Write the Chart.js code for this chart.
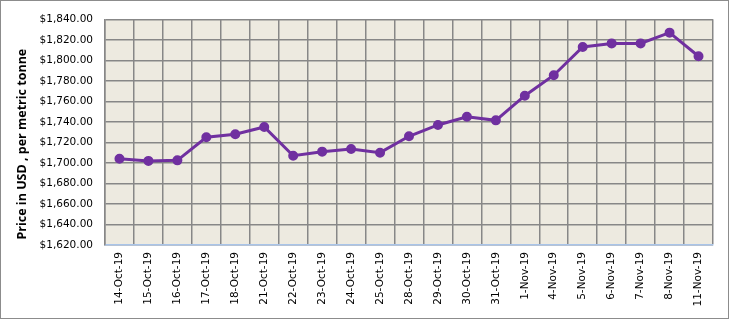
<!DOCTYPE html>
<html lang="en">
<head>
    <meta charset="UTF-8">
    <title>Price chart</title>
    <script src="https://cdn.jsdelivr.net/npm/chart.js@4"></script>
    <style>
        html, body { margin: 0; padding: 0; background: #fff; }
        #wrap {
            position: relative;
            width: 727px;
            height: 317px;
            border: 1px solid #8c8c8c;
        }
        #priceChart { position: absolute; left: 0; top: 0; }
    </style>
</head>
<body>
    <div id="wrap">
        <canvas id="priceChart" width="727" height="317"></canvas>
    </div>

    <script>
        // dates on the x axis
        const dates = ['14-Oct-19', '15-Oct-19', '16-Oct-19', '17-Oct-19', '18-Oct-19', '21-Oct-19',
            '22-Oct-19', '23-Oct-19', '24-Oct-19', '25-Oct-19', '28-Oct-19', '29-Oct-19', '30-Oct-19',
            '31-Oct-19', '1-Nov-19', '4-Nov-19', '5-Nov-19', '6-Nov-19', '7-Nov-19', '8-Nov-19', '11-Nov-19'];

        // price, USD per metric tonne
        const prices = [1704, 1702, 1702.5, 1725, 1728, 1735, 1707, 1711, 1713.5, 1710, 1726, 1737,
            1745, 1741.5, 1765.5, 1785.5, 1813, 1816.5, 1816.5, 1827, 1804];

        const yMin = 1620;
        const yMax = 1840;
        const yStep = 20;
        const yTitle = 'Price in USD , per metric tonne';

        // fill the plot area with the beige background
        const plotBackground = {
            id: 'plotBackground',
            beforeDraw(chart) {
                const a = chart.chartArea;
                const ctx = chart.ctx;
                ctx.save();
                ctx.fillStyle = '#edeae0';
                ctx.fillRect(a.left, a.top, a.right - a.left, a.bottom - a.top);
                ctx.restore();
            }
        };

        // y title sits a bit below the middle of the axis, like the excel original
        const yTitlePlugin = {
            id: 'yTitlePlugin',
            afterDraw(chart) {
                const a = chart.chartArea;
                const ctx = chart.ctx;
                ctx.save();
                ctx.translate(21, (a.top + a.bottom) / 2 + 12);
                ctx.rotate(-Math.PI / 2);
                ctx.font = 'bold 12.5px "Open Sans"';
                ctx.fillStyle = '#000';
                ctx.textAlign = 'center';
                ctx.textBaseline = 'middle';
                ctx.fillText(yTitle, 0, 0);
                ctx.restore();
            }
        };

        const tickFont = { family: 'DejaVu Sans', size: 10.5 };

        new Chart(document.getElementById('priceChart'), {
            type: 'line',
            data: {
                labels: dates,
                datasets: [{
                    data: prices,
                    borderColor: '#7030a0',
                    backgroundColor: '#7030a0',
                    borderWidth: 3,
                    pointRadius: 3.5,
                    pointHoverRadius: 3.5,
                    tension: 0
                }]
            },
            options: {
                responsive: false,
                animation: false,
                layout: { padding: { top: 13, right: 15, left: 0, bottom: 0 } },
                plugins: {
                    legend: { display: false },
                    tooltip: { enabled: false }
                },
                scales: {
                    x: {
                        offset: true,
                        grid: { offset: true, color: '#878787', lineWidth: 1.5, drawTicks: false },
                        border: { color: '#a9c4e8', width: 1.5 },
                        ticks: {
                            color: '#000',
                            font: tickFont,
                            minRotation: 90,
                            maxRotation: 90,
                            autoSkip: false,
                            padding: 7
                        },
                        afterFit(axis) { axis.height = 73; }
                    },
                    y: {
                        min: yMin,
                        max: yMax,
                        grid: { color: '#878787', lineWidth: 1.5, drawTicks: false },
                        border: { color: '#878787', width: 1.5 },
                        ticks: {
                            stepSize: yStep,
                            color: '#000',
                            font: tickFont,
                            padding: 12,
                            callback: v => '$' + v.toLocaleString('en-US', { minimumFractionDigits: 2, maximumFractionDigits: 2 })
                        },
                        afterFit(axis) { axis.width = 104; }
                    }
                }
            },
            plugins: [plotBackground, yTitlePlugin]
        });
    </script>
</body>
</html>
